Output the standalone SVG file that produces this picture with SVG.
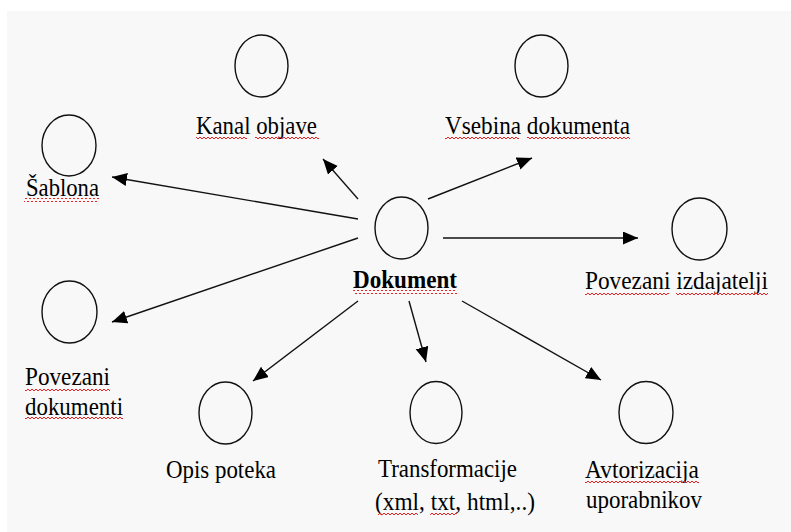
<svg xmlns="http://www.w3.org/2000/svg" width="791" height="532" viewBox="0 0 791 532">
<style>
.node ellipse{fill:none;stroke:#111;stroke-width:1.4}
text{font-family:"Liberation Serif","Times New Roman",serif;font-size:25px;fill:#000}
.b{font-weight:bold}
.edge{stroke:#111;stroke-width:1.4;fill:none;marker-end:url(#ah)}
.sq{fill:url(#wave)}
</style>
<defs>
<marker id="ah" markerUnits="userSpaceOnUse" markerWidth="16" markerHeight="14" refX="15" refY="6.5" orient="auto">
<path d="M0,0 L15,6.5 L0,13 z" fill="#000"/>
</marker>
<pattern id="wave" width="4" height="4" patternUnits="userSpaceOnUse">
<path d="M0,1 L2,3 L4,1" stroke="#e22" stroke-width="1" fill="none"/>
</pattern>
</defs>
<rect x="0" y="0" width="791" height="532" fill="#fff"/>
<rect x="7" y="11" width="784" height="521" fill="#f8f8f8"/>

<g id="connectors">
<line class="edge" x1="358" y1="199" x2="323" y2="159"/>
<line class="edge" x1="358" y1="219" x2="112" y2="177"/>
<line class="edge" x1="428" y1="199" x2="532" y2="158"/>
<line class="edge" x1="443" y1="238" x2="638" y2="238"/>
<line class="edge" x1="358" y1="238" x2="112" y2="322"/>
<line class="edge" x1="358" y1="301" x2="253" y2="381"/>
<line class="edge" x1="409" y1="301" x2="426" y2="362"/>
<line class="edge" x1="462" y1="301" x2="601" y2="380"/>
</g>

<g id="dokument" class="node">
<ellipse cx="401.5" cy="228" rx="26.5" ry="31"/>
<text class="b" x="353" y="288" textLength="104" lengthAdjust="spacingAndGlyphs">Dokument</text>
<rect class="sq" x="353" y="290" width="104" height="4"/>
</g>

<g id="kanal" class="node">
<ellipse cx="261.5" cy="66" rx="26.5" ry="31"/>
<text x="196" y="134" textLength="121" lengthAdjust="spacingAndGlyphs">Kanal objave</text>
<rect class="sq" x="196" y="136" width="51" height="4"/>
<rect class="sq" x="255" y="136" width="64" height="4"/>
</g>

<g id="vsebina" class="node">
<ellipse cx="541.5" cy="66" rx="26.5" ry="31"/>
<text x="445" y="134" textLength="185" lengthAdjust="spacingAndGlyphs">Vsebina dokumenta</text>
<rect class="sq" x="445" y="136" width="74" height="4"/>
<rect class="sq" x="527" y="136" width="103" height="4"/>
</g>

<g id="sablona" class="node">
<ellipse cx="69" cy="145.5" rx="27" ry="30.5"/>
<text x="26" y="196" textLength="73" lengthAdjust="spacingAndGlyphs">Šablona</text>
<rect class="sq" x="24" y="198" width="75" height="4"/>
</g>

<g id="izdajatelji" class="node">
<ellipse cx="699.5" cy="229" rx="27.5" ry="31"/>
<text x="585" y="289" textLength="183" lengthAdjust="spacingAndGlyphs">Povezani izdajatelji</text>
<rect class="sq" x="585" y="291" width="84" height="4"/>
<rect class="sq" x="676" y="291" width="92" height="4"/>
</g>

<g id="povezani-dokumenti" class="node">
<ellipse cx="69.5" cy="312" rx="27.5" ry="31"/>
<text x="25" y="385" textLength="85" lengthAdjust="spacingAndGlyphs">Povezani</text>
<rect class="sq" x="25" y="387" width="85" height="4"/>
<text x="25" y="415" textLength="98" lengthAdjust="spacingAndGlyphs">dokumenti</text>
<rect class="sq" x="25" y="417" width="98" height="4"/>
</g>

<g id="opis" class="node">
<ellipse cx="225.5" cy="413" rx="26.5" ry="31"/>
<text x="166" y="478" textLength="110" lengthAdjust="spacingAndGlyphs">Opis poteka</text>
</g>

<g id="transformacije" class="node">
<ellipse cx="436" cy="412.5" rx="26" ry="31"/>
<text x="378" y="477" textLength="139" lengthAdjust="spacingAndGlyphs">Transformacije</text>
<text x="375" y="510" textLength="160" lengthAdjust="spacingAndGlyphs">(xml, txt, html,..)</text>
<rect class="sq" x="378" y="512" width="40" height="4"/>
<rect class="sq" x="430" y="512" width="27" height="4"/>
</g>

<g id="avtorizacija" class="node">
<ellipse cx="646" cy="412.5" rx="27" ry="31"/>
<text x="585" y="478" textLength="114" lengthAdjust="spacingAndGlyphs">Avtorizacija</text>
<rect class="sq" x="585" y="480" width="114" height="4"/>
<text x="586" y="508" textLength="116" lengthAdjust="spacingAndGlyphs">uporabnikov</text>
</g>
</svg>
